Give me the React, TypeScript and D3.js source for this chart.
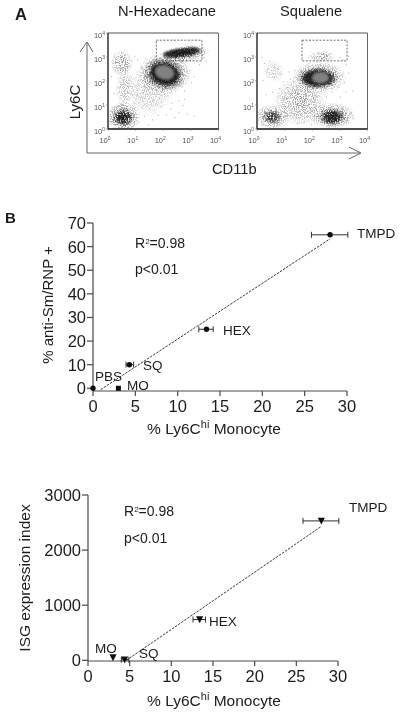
import React from 'react';
import * as d3 from 'd3';

// Panel A: event clouds, in decades (log10)
// [log x, log y, radius x, radius y, angle, strength]
const hexHalos = [
  [2.05, 2.3, 0.98, 0.9, 0, 1],
  [2.75, 3.12, 0.95, 0.38, -8, 0.9],
  [0.55, 0.5, 0.65, 0.65, 0, 0.95],
  [0.5, 2.75, 0.42, 0.55, 0, 0.7],
  [0.6, 1.7, 0.35, 0.85, 0, 0.45],
  [1.5, 1.6, 0.9, 1.1, 0, 0.35],
];
const hexDense = [
  [0.55, 0.48, 0.4, 0.38, 0, 1],
  [2.05, 2.3, 0.78, 0.68, 15, 1],
  [2.7, 3.18, 0.8, 0.25, -8, 1],
];
const hexCores = [
  [2.05, 2.3, 0.52, 0.44, 15, 0.85],
  [2.45, 3.16, 0.44, 0.14, -6, 0.85],
  [3.0, 3.24, 0.32, 0.14, -6, 0.8],
  [0.55, 0.46, 0.14, 0.16, 0, 0.45],
];
const hexCentres = [[2.05, 2.36, 0.34, 0.28, 15, 0.9]];

const sqHalos = [
  [2.25, 2.15, 1.0, 0.68, 0, 1],
  [2.72, 0.55, 0.85, 0.55, 0, 0.95],
  [0.55, 0.5, 0.65, 0.55, 0, 0.75],
  [2.35, 3.02, 0.5, 0.24, 0, 0.65],
  [1.55, 1.15, 1.0, 1.05, 0, 0.6],
  [0.6, 2.4, 0.4, 0.45, 0, 0.35],
];
const sqDense = [
  [2.72, 0.5, 0.5, 0.38, 0, 1],
  [0.55, 0.5, 0.34, 0.3, 0, 0.85],
  [2.2, 2.12, 0.76, 0.48, 0, 1],
];
const sqCores = [
  [2.2, 2.12, 0.54, 0.32, 0, 0.85],
  [2.72, 0.48, 0.24, 0.18, 0, 0.6],
];
const sqCentres = [[2.3, 2.14, 0.3, 0.22, 0, 0.9]];

// Stray events picked by eye
const hexStray = [
  [1.1, 0.3], [1.3, 0.55], [1.45, 0.2], [1.6, 0.4], [1.8, 0.6], [1.2, 0.9], [1.5, 0.85], [1.9, 0.95],
  [2.1, 0.6], [2.25, 0.85], [2.4, 0.5], [2.55, 0.7], [2.7, 1.0], [2.85, 0.65], [3.1, 0.55], [2.3, 1.1],
  [2.55, 1.2], [2.75, 1.25], [2.15, 1.4], [1.85, 1.3], [1.6, 1.2], [1.3, 1.3], [1.05, 1.45], [1.2, 1.75],
  [1.45, 1.65], [1.7, 1.75], [1.95, 1.65], [2.75, 1.6], [3.0, 1.95], [3.1, 2.2], [2.95, 2.45], [1.1, 2.05],
  [1.3, 2.3], [1.45, 2.6], [1.2, 2.6], [1.05, 2.9], [1.35, 2.95], [1.6, 2.85], [0.95, 3.05], [0.1, 2.2],
  [0.2, 1.5], [0.95, 1.1], [3.45, 3.0], [3.55, 2.85], [3.3, 2.7],
];
const sqStray = [
  [0.25, 2.75], [0.45, 2.85], [0.6, 2.6], [0.75, 2.5], [0.85, 2.3], [0.4, 2.2], [0.2, 2.05], [0.95, 2.0],
  [1.1, 1.75], [0.8, 1.7], [0.55, 1.55], [0.3, 1.45], [1.05, 1.3], [1.2, 2.1], [1.35, 2.45], [1.15, 2.4],
  [0.15, 3.0], [3.0, 1.35], [3.2, 1.55], [3.45, 1.6], [3.15, 1.95], [3.3, 2.35], [3.2, 2.7], [3.1, 2.9],
  [2.95, 1.75], [2.7, 1.55], [2.5, 1.35], [1.45, 0.25], [1.7, 0.3], [1.95, 0.2], [3.5, 0.45], [3.4, 0.7],
  [3.3, 0.3], [1.85, 3.0], [3.0, 3.0], [3.3, 3.05],
];

// Gates: [min log x, max log x, min log y, max log y]
const hexGate = [1.75, 3.4, 2.84, 3.7];
const sqGate = [1.63, 3.26, 2.84, 3.7];
const decades = [0, 1, 2, 3, 4];

// Panel B data
const groupsTop = ['TMPD', 'HEX', 'SQ', 'PBS', 'MO'];
const monoTop = [28, 13.4, 4.3, 0, 3];
const monoLowTop = [25.8, 12.5, 3.9, 0, 3];
const monoHighTop = [30.1, 14.2, 4.8, 0, 3];
const antiSm = [65, 25, 10, 0, 0];
const fitTopX = [0.9, 28];
const fitTopY = [-0.6, 63.3];

const groupsBottom = ['TMPD', 'HEX', 'SQ', 'MO'];
const monoBottom = [28, 13.4, 4.4, 3];
const monoLowBottom = [25.8, 12.6, 4, 3];
const monoHighBottom = [30.1, 14.1, 4.9, 3];
const isgIndex = [2530, 740, 10, 50];
const fitBottomX = [4.6, 28];
const fitBottomY = [0, 2430];

const xTicks = [0, 5, 10, 15, 20, 25, 30];
const topYTicks = [0, 10, 20, 30, 40, 50, 60, 70];
const bottomYTicks = [0, 1000, 2000, 3000];

const SANS = '"Liberation Sans", Arial, sans-serif';
const AXIS = '#4a4a4a';
const INK = '#1c1c1c';

function ellipses(rows: number[][], x: any, y: any, fill: string, key: string) {
  return rows.map((c, i) => {
    const cx = x(10 ** c[0]);
    const cy = y(10 ** c[1]);
    const rx = x(10 ** (c[0] + c[2])) - cx;
    const ry = cy - y(10 ** (c[1] + c[3]));
    return (
      <ellipse key={key + i} cx={cx} cy={cy} rx={rx} ry={ry} fill={fill} opacity={c[5]}
        transform={`rotate(${c[4]} ${cx} ${cy})`} />
    );
  });
}

function DotPlot({ id, left, halos, dense, cores, centres, stray, gate }: any) {
  const x = d3.scaleLog().domain([1, 10000]).range([left, left + 110.5]);
  const y = d3.scaleLog().domain([1, 10000]).range([129, 33]);
  const [x0, x1] = x.range();
  const [y0, y1] = y.range();
  return (
    <g>
      <clipPath id={id}><rect x={x0} y={y1} width={x1 - x0} height={y0 - y1} /></clipPath>
      <g clipPath={`url(#${id})`}>
        <g filter="url(#grain)">{ellipses(halos, x, y, 'url(#cloud)', id + 'h')}</g>
        <g filter="url(#grainDense)">{ellipses(dense, x, y, 'url(#cloud)', id + 'd')}</g>
        <g filter="url(#soft)">
          {ellipses(cores, x, y, '#1a1a1a', id + 'c')}
          {ellipses(centres, x, y, '#8c8c8c', id + 'm')}
        </g>
        {stray.map((d: number[], i: number) => (
          <rect key={i} x={x(10 ** d[0])} y={y(10 ** d[1])} width={1} height={1} fill="#888" opacity={0.7} />
        ))}
      </g>
      <rect x={x(10 ** gate[0])} y={y(10 ** gate[3])} width={x(10 ** gate[1]) - x(10 ** gate[0])}
        height={y(10 ** gate[2]) - y(10 ** gate[3])} fill="none" stroke="#333" strokeWidth={0.7} strokeDasharray="2 1.5" />
      <line x1={x0} x2={x1} y1={y1} y2={y1} stroke="#555" strokeWidth={1} />
      <line x1={x1} x2={x1} y1={y1} y2={y0} stroke="#666" strokeWidth={1} />
      <line x1={x0} x2={x0} y1={y1} y2={y0} stroke="#111" strokeWidth={1.3} />
      <line x1={x0} x2={x1} y1={y0} y2={y0} stroke="#111" strokeWidth={1.3} />
      {decades.map(d => (
        <g key={d} fill="#555" fontFamily={SANS}>
          <text x={x(10 ** d) - 3} y={143} fontSize={7.5} textAnchor="middle">
            10<tspan fontSize={5} dy={-3}>{d}</tspan>
          </text>
          <text x={x0 - 3} y={y(10 ** d) + 5} fontSize={7.5} textAnchor="end">
            10<tspan fontSize={5} dy={-3}>{d}</tspan>
          </text>
          <line x1={x(10 ** d)} x2={x(10 ** d)} y1={y0} y2={y0 + 2} stroke="#777" strokeWidth={0.6} />
          <line x1={x0 - 2} x2={x0} y1={y(10 ** d)} y2={y(10 ** d)} stroke="#777" strokeWidth={0.6} />
        </g>
      ))}
    </g>
  );
}

function Marker({ shape, cx, cy }: { shape: string; cx: number; cy: number }) {
  if (shape === 'square') return <rect x={cx - 2.5} y={cy - 2.5} width={5} height={5} fill="#111" />;
  if (shape === 'down') {
    const tri = d3.line()([[cx - 3.6, cy - 3.2], [cx + 3.6, cy - 3.2], [cx, cy + 3.6]]) + 'Z';
    return <path d={tri} fill="#111" />;
  }
  return <circle cx={cx} cy={cy} r={2.7} fill="#111" />;
}

function ScatterPanel({ frame, yDomain, yTicks, names, mono, low, high, vals, shapes, fitX, fitY, labels, yLabel, yLabelX, notes, xLabelY }: any) {
  const x = d3.scaleLinear().domain([0, 30]).range([frame.x0, frame.x1]);
  const y = d3.scaleLinear().domain(yDomain).range([frame.y0, frame.y1]);
  const axisY = frame.axisY;
  const fit = d3.line()(fitX.map((v: number, i: number) => [x(v), y(fitY[i])]));
  return (
    <g fontFamily={SANS} fill={INK}>
      <line x1={frame.x0} x2={frame.x0} y1={frame.y1} y2={axisY} stroke={AXIS} strokeWidth={1.2} />
      <line x1={frame.x0} x2={frame.x1} y1={axisY} y2={axisY} stroke={AXIS} strokeWidth={1.2} />
      {xTicks.map(t => (
        <g key={t}>
          <line x1={x(t)} x2={x(t)} y1={axisY} y2={axisY + 5} stroke={AXIS} strokeWidth={1.2} />
          <text x={x(t)} y={axisY + 21} fontSize={16.5} textAnchor="middle">{t}</text>
        </g>
      ))}
      {yTicks.map((t: number) => (
        <g key={t}>
          <line x1={frame.x0 - 6} x2={frame.x0} y1={y(t)} y2={y(t)} stroke={AXIS} strokeWidth={1.2} />
          <text x={frame.x0 - 7} y={y(t) + 6} fontSize={16.5} textAnchor="end">{t}</text>
        </g>
      ))}
      <path d={fit ?? ''} fill="none" stroke="#222" strokeWidth={0.9} strokeDasharray="2.5 1.2" />
      {names.map((n: string, i: number) => (
        <g key={n}>
          {high[i] > low[i] && (
            <g stroke="#333" strokeWidth={1}>
              <line x1={x(low[i])} x2={x(high[i])} y1={y(vals[i])} y2={y(vals[i])} />
              <line x1={x(low[i])} x2={x(low[i])} y1={y(vals[i]) - 3} y2={y(vals[i]) + 3} />
              <line x1={x(high[i])} x2={x(high[i])} y1={y(vals[i]) - 3} y2={y(vals[i]) + 3} />
            </g>
          )}
          <Marker shape={shapes[i]} cx={x(mono[i])} cy={y(vals[i])} />
        </g>
      ))}
      {labels.map((l: any) => (
        <text key={l.t} x={l.x} y={l.y} fontSize={13.5}>{l.t}</text>
      ))}
      <text x={notes.x} y={notes.y1} fontSize={14}>R<tspan fontSize={8} dy={-4}>2</tspan><tspan dy={4}>=0.98</tspan></text>
      <text x={notes.x} y={notes.y2} fontSize={14}>p&lt;0.01</text>
      <text x={214} y={xLabelY} fontSize={15.5} textAnchor="middle">
        % Ly6C<tspan fontSize={11} dy={-6}>hi</tspan><tspan dy={6}> Monocyte</tspan>
      </text>
      <text transform={`translate(${yLabelX},${yLabel.cy}) rotate(-90)`} fontSize={yLabel.size} textAnchor="middle">{yLabel.t}</text>
    </g>
  );
}

export default function App() {
  return (
    <svg width={400} height={714} style={{ position: 'absolute', left: 0, top: 0, background: '#fff' }}>
      <defs>
        <radialGradient id="cloud">
          <stop offset="0%" stopColor="#000" stopOpacity={1} />
          <stop offset="50%" stopColor="#000" stopOpacity={0.8} />
          <stop offset="100%" stopColor="#000" stopOpacity={0} />
        </radialGradient>
        <filter id="grain" x="0" y="0" width="1" height="1">
          <feTurbulence type="fractalNoise" baseFrequency="0.9" numOctaves={2} seed={4} result="noise" />
          <feColorMatrix in="noise" type="matrix" values="0 0 0 0 0  0 0 0 0 0  0 0 0 0 0  0 0 0 6 -2.7" result="mask" />
          <feComposite in="SourceGraphic" in2="mask" operator="arithmetic" k1={0.65} k2={0} k3={0} k4={0} result="spots" />
          <feGaussianBlur in="spots" stdDeviation={0.4} />
        </filter>
        <filter id="grainDense" x="0" y="0" width="1" height="1">
          <feTurbulence type="fractalNoise" baseFrequency="0.7" numOctaves={2} seed={9} result="noise" />
          <feColorMatrix in="noise" type="matrix" values="0 0 0 0 0  0 0 0 0 0  0 0 0 0 0  0 0 0 6 -2" result="mask" />
          <feComposite in="SourceGraphic" in2="mask" operator="arithmetic" k1={0.95} k2={0} k3={0} k4={0} result="spots" />
          <feGaussianBlur in="spots" stdDeviation={0.4} />
        </filter>
        <filter id="soft" x="-30%" y="-30%" width="160%" height="160%">
          <feGaussianBlur stdDeviation={1.2} />
        </filter>
        <filter id="page" filterUnits="userSpaceOnUse" x={0} y={0} width={400} height={714}>
          <feGaussianBlur stdDeviation={0.3} />
        </filter>
      </defs>

      <g filter="url(#page)">
        <g fontFamily={SANS} fill={INK}>
          <text x={15} y={20} fontSize={16.5} fontWeight="bold">A</text>
          <text x={5} y={223} fontSize={15} fontWeight="bold">B</text>
          <text x={118} y={16} fontSize={14.7}>N-Hexadecane</text>
          <text x={280} y={16} fontSize={14.7}>Squalene</text>
          <text transform="translate(80,102) rotate(-90)" fontSize={15} textAnchor="middle">Ly6C</text>
          <text x={212} y={174} fontSize={14.7}>CD11b</text>
        </g>

        <DotPlot id="hex" left={108} halos={hexHalos} dense={hexDense} cores={hexCores} centres={hexCentres} stray={hexStray} gate={hexGate} />
        <DotPlot id="sq" left={257} halos={sqHalos} dense={sqDense} cores={sqCores} centres={sqCentres} stray={sqStray} gate={sqGate} />

        <g fill="none" stroke="#666" strokeWidth={1}>
          <path d="M87,42V153H360" />
          <path d="M80,52L87,42L93,52" />
          <path d="M349,147L361,153L349,159" />
        </g>

        <ScatterPanel
          frame={{ x0: 93, x1: 347, y0: 388.3, y1: 223, axisY: 391 }}
          yDomain={[0, 70]} yTicks={topYTicks}
          names={groupsTop} mono={monoTop} low={monoLowTop} high={monoHighTop} vals={antiSm}
          shapes={['circle', 'circle', 'circle', 'circle', 'square']}
          fitX={fitTopX} fitY={fitTopY}
          labels={[
            { t: 'TMPD', x: 357, y: 238 }, { t: 'HEX', x: 223, y: 335 }, { t: 'SQ', x: 143, y: 370 },
            { t: 'PBS', x: 95, y: 381 }, { t: 'MO', x: 127, y: 390 },
          ]}
          notes={{ x: 135, y1: 248, y2: 274 }}
          yLabel={{ t: '% anti-Sm/RNP +', cy: 305, size: 15 }} yLabelX={53} xLabelY={434}
        />
        <ScatterPanel
          frame={{ x0: 88, x1: 338, y0: 660.3, y1: 495, axisY: 661 }}
          yDomain={[0, 3000]} yTicks={bottomYTicks}
          names={groupsBottom} mono={monoBottom} low={monoLowBottom} high={monoHighBottom} vals={isgIndex}
          shapes={['down', 'down', 'down', 'down']}
          fitX={fitBottomX} fitY={fitBottomY}
          labels={[
            { t: 'TMPD', x: 349, y: 512 }, { t: 'HEX', x: 209, y: 626 }, { t: 'SQ', x: 139, y: 658 }, { t: 'MO', x: 95, y: 653 },
          ]}
          notes={{ x: 124, y1: 516, y2: 543 }}
          yLabel={{ t: 'ISG expression index', cy: 578, size: 15.5 }} yLabelX={30} xLabelY={706}
        />
      </g>
    </svg>
  );
}
